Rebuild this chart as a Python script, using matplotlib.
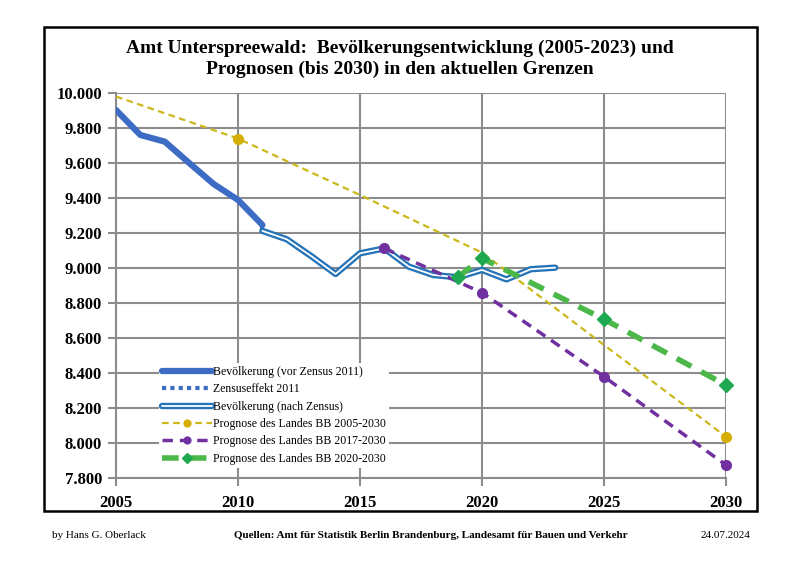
import matplotlib.pyplot as plt
import matplotlib.patheffects as pe
from matplotlib.patches import Rectangle
from matplotlib.ticker import FuncFormatter

plt.rcParams['font.family'] = ['Liberation Serif', 'DejaVu Serif']

# data
years_vor = [2005, 2006, 2007, 2008, 2009, 2010, 2011]
pop_vor = [9903, 9760, 9722, 9600, 9480, 9389, 9246]

years_zensus = [2011, 2011]
pop_zensus = [9246, 9212]

years_nach = [2011, 2012, 2013, 2014, 2015, 2016, 2017, 2018, 2019, 2020, 2021, 2022, 2023]
pop_nach = [9212, 9164, 9068, 8966, 9084, 9112, 9008, 8960, 8947, 8989, 8935, 8993, 9002]

years_p05 = [2005, 2010, 2015, 2020, 2025, 2030]
pop_p05 = [9980, 9740, 9417, 9088, 8560, 8036]

years_p17 = [2016, 2020, 2025, 2030]
pop_p17 = [9112, 8859, 8379, 7874]

years_p20 = [2019, 2020, 2025, 2030]
pop_p20 = [8947, 9056, 8707, 8331]

fig = plt.figure(figsize=(8, 5.66), dpi=100)
ax = fig.add_axes([116 / 800, 1 - 478 / 566, 610 / 800, 385 / 566])

ax.plot(years_vor, pop_vor, color='#3d6cc4', lw=4.5, solid_capstyle='round',
        label='Bevölkerung (vor Zensus 2011)', zorder=5)
ax.plot(years_zensus, pop_zensus, color='#3d6cc4', lw=3, ls=(0, (1, 1)),
        label='Zensuseffekt 2011', zorder=5)
ax.plot(years_nach, pop_nach, color='white', lw=1.3, solid_capstyle='round',
        path_effects=[pe.Stroke(linewidth=4.6, foreground='#2574b8'), pe.Normal()],
        label='Bevölkerung (nach Zensus)', zorder=6)
ax.plot(years_p05, pop_p05, color='#cdb81a', lw=1.6, ls=(0, (3, 2)),
        marker='o', ms=7, markevery=[1, 5], mfc='#d4ae00', mec='#d4ae00',
        label='Prognose des Landes BB 2005-2030', zorder=4, clip_on=False)
ax.plot(years_p17, pop_p17, color='#7030a0', lw=2.5, ls=(0, (3, 2)),
        marker='o', ms=7, mfc='#7030a0', mec='#7030a0',
        label='Prognose des Landes BB 2017-2030', zorder=7, clip_on=False)
ax.plot(years_p20, pop_p20, color='#4cb84a', lw=4, ls=(0, (3, 2)),
        marker='D', ms=7, mfc='#1fa84f', mec='#1fa84f',
        label='Prognose des Landes BB 2020-2030', zorder=8, clip_on=False)

ax.set_xlim(2005, 2030)
ax.set_ylim(7800, 10000)
ax.set_xticks(range(2005, 2031, 5))
ax.set_yticks(range(7800, 10001, 200))
ax.yaxis.set_major_formatter(FuncFormatter(lambda v, p: f'{int(v):,}'.replace(',', '.')))
ax.grid(True, color='#8c8c8c', lw=1.5)
ax.set_axisbelow(True)
for s in ['top', 'right']:
    ax.spines[s].set_visible(False)
for s in ['left', 'bottom']:
    ax.spines[s].set_color('#8c8c8c')
    ax.spines[s].set_linewidth(1.5)
ax.tick_params(axis='both', colors='#8c8c8c', width=1.5, length=6, labelcolor='black')
ax.tick_params(axis='x', pad=6)
ax.tick_params(axis='y', pad=4)
for lab in ax.get_xticklabels() + ax.get_yticklabels():
    lab.set_fontweight('bold')
    lab.set_fontsize(12)

leg = ax.legend(loc='lower left', bbox_to_anchor=(0.06, 0.01), frameon=True,
                fontsize=8.5, handlelength=4.2, handletextpad=0.1, labelspacing=0.45,
                markerscale=0.7, borderpad=0.3, fancybox=False)
leg.get_frame().set_edgecolor('none')
leg.get_frame().set_facecolor('white')
leg.get_frame().set_alpha(1)

fig.text(0.5, 1 - 59 / 566, 'Amt Unterspreewald:  Bevölkerungsentwicklung (2005-2023) und\n'
         'Prognosen (bis 2030) in den aktuellen Grenzen',
         ha='center', va='center', fontsize=14, fontweight='bold', linespacing=1.25)

fig.patches.append(Rectangle((44 / 800, 1 - 511 / 566), 713 / 800, 484 / 566,
                             transform=fig.transFigure, fill=False, ec='black', lw=1.8))

fig.text(52 / 800, 1 - 536 / 566, 'by Hans G. Oberlack', fontsize=8, va='center')
fig.text(431 / 800, 1 - 536 / 566,
         'Quellen: Amt für Statistik Berlin Brandenburg, Landesamt für Bauen und Verkehr',
         fontsize=8, va='center', ha='center', fontweight='bold')
fig.text(750 / 800, 1 - 536 / 566, '24.07.2024', fontsize=8, va='center', ha='right')

fig.savefig('out.png', dpi=100)
